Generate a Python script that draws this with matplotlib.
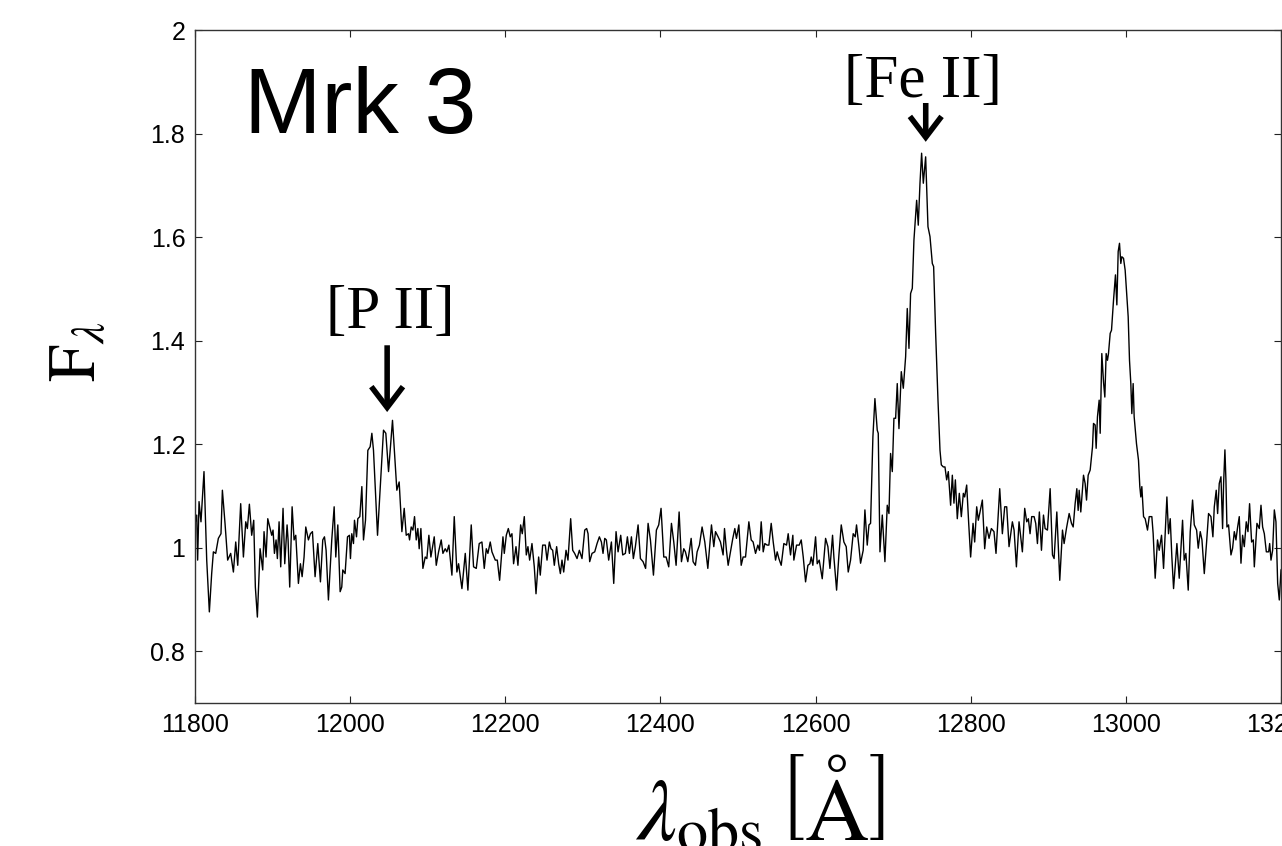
import matplotlib
matplotlib.use("Agg")
import matplotlib.pyplot as plt
from matplotlib.ticker import FormatStrFormatter

plt.rcParams['mathtext.fontset'] = 'stix'

# ---------------- data ----------------
wl_a = [11800.0, 11802.2, 11803.4, 11805.2, 11807.7, 11811.6, 11815.1, 11818.5, 11821.5, 11823.7,
        11826.7, 11830.1, 11833.5, 11835.3, 11838.7, 11842.1, 11846.0, 11849.5, 11852.5, 11855.1,
        11858.9, 11862.4, 11865.4, 11867.5, 11870.1, 11873.1, 11875.7, 11877.8, 11880.4, 11883.9,
        11887.3, 11889.0, 11891.6, 11893.8, 11896.8, 11898.9, 11900.6, 11902.4, 11904.5, 11906.2,
        11908.4, 11910.5, 11913.5, 11915.7, 11918.7, 11920.0, 11922.1, 11925.2, 11927.7, 11929.9,
        11933.3, 11935.9, 11938.1, 11940.6, 11942.8, 11946.2, 11948.8, 11951.4, 11954.8, 11958.3,
        11961.7, 11964.7, 11966.9, 11969.0, 11972.0, 11976.3, 11979.4, 11981.5, 11984.1, 11987.1,
        11989.2, 11990.5, 11993.5, 11996.6, 11999.1, 12000.4, 12002.1, 12004.3, 12005.6, 12008.2,
        12009.9, 12012.5, 12015.1, 12017.2, 12019.8, 12022.8, 12025.8, 12028.0]
fx_a = [1.047, 1.063, 0.976, 1.089, 1.050, 1.147, 0.976, 0.876, 0.950, 0.992,
        0.989, 1.018, 1.027, 1.111, 1.047, 0.976, 0.989, 0.953, 1.011, 0.966,
        1.085, 0.982, 1.050, 1.037, 1.084, 1.024, 1.053, 0.924, 0.866, 0.998,
        0.957, 1.031, 0.982, 1.056, 1.037, 1.024, 1.034, 0.989, 1.015, 0.979,
        1.050, 0.963, 1.076, 0.969, 1.044, 1.015, 0.924, 1.079, 1.015, 1.024,
        0.931, 0.969, 0.944, 0.982, 1.040, 1.015, 1.027, 1.031, 0.944, 1.008,
        0.934, 1.015, 1.021, 0.995, 0.899, 1.015, 1.079, 0.982, 1.044, 0.915,
        0.924, 0.957, 0.950, 1.021, 1.024, 0.979, 1.027, 1.008, 1.053, 1.021,
        1.056, 1.060, 1.118, 1.015, 1.053, 1.188, 1.195, 1.221]

wl_b = [12030.1, 12035.3, 12043.0, 12046.0, 12049.5, 12054.6, 12060.2, 12063.2, 12066.7, 12069.7,
        12072.3, 12075.3, 12076.6, 12078.7, 12080.9, 12083.0, 12085.2, 12087.3, 12089.0, 12091.2,
        12093.8, 12096.8, 12098.9, 12101.5, 12104.1, 12108.4, 12111.0, 12114.0, 12117.4, 12119.6,
        12122.6, 12124.7, 12127.3, 12131.2, 12134.2, 12137.6, 12139.8, 12144.1, 12148.4, 12151.8,
        12156.1, 12159.1, 12162.6, 12166.4, 12169.9, 12172.9, 12175.5, 12177.6, 12180.6, 12182.8,
        12187.1, 12189.7, 12192.7, 12197.0, 12198.7, 12201.3, 12203.9, 12206.4, 12208.6, 12210.7,
        12213.8, 12216.3, 12219.8, 12221.9, 12224.5, 12227.1, 12229.2, 12231.4, 12234.4, 12237.4,
        12239.6, 12243.0, 12245.1, 12248.2, 12251.6, 12253.8, 12256.8]
fx_b = [1.188, 1.024, 1.227, 1.221, 1.147, 1.246, 1.111, 1.127, 1.031, 1.076,
        1.024, 1.027, 1.015, 1.040, 1.034, 1.060, 1.015, 1.037, 0.998, 1.037,
        0.960, 0.982, 0.979, 1.024, 0.982, 1.021, 0.966, 0.992, 1.015, 0.989,
        0.998, 0.992, 1.005, 0.947, 1.060, 0.953, 0.969, 0.921, 0.989, 0.918,
        1.044, 0.963, 0.960, 1.008, 1.011, 0.960, 0.998, 0.989, 1.011, 0.992,
        0.976, 0.976, 0.937, 1.021, 0.989, 1.024, 1.037, 1.021, 1.027, 0.969,
        1.002, 0.966, 1.044, 1.027, 1.060, 0.986, 1.002, 0.976, 1.008, 0.963,
        0.911, 0.982, 0.947, 1.005, 1.005, 0.976, 1.011]

wl_c = [12258.9, 12261.1, 12263.2, 12266.2, 12268.8, 12271.0, 12273.1, 12275.3, 12278.3, 12280.8,
        12284.3, 12286.9, 12289.4, 12292.5, 12295.5, 12298.9, 12302.4, 12304.9, 12306.7, 12308.8,
        12311.8, 12315.3, 12318.3, 12321.3, 12323.9, 12326.0, 12328.2, 12330.3, 12333.3, 12336.8,
        12339.8, 12342.8, 12345.4, 12348.8, 12351.4, 12354.8, 12357.4, 12360.0, 12362.6, 12365.1,
        12367.7, 12371.2, 12374.2, 12377.6, 12380.9, 12384.1, 12387.1, 12391.0, 12394.8, 12397.8,
        12400.8, 12404.3, 12407.3, 12410.7, 12414.2, 12417.2, 12420.2, 12424.1, 12427.1, 12430.1,
        12432.2, 12435.3, 12439.6, 12442.1, 12445.1, 12447.3, 12450.3, 12453.7, 12457.2, 12461.1,
        12465.8, 12468.8, 12471.0, 12474.4]
fx_c = [0.998, 0.995, 0.966, 1.002, 0.969, 0.950, 0.976, 0.953, 0.995, 0.976,
        1.056, 0.995, 0.989, 0.979, 0.995, 0.979, 1.034, 1.037, 1.027, 0.973,
        0.989, 0.992, 1.008, 1.021, 1.011, 0.989, 1.018, 1.015, 0.976, 1.011,
        0.931, 1.031, 0.992, 1.024, 0.986, 0.989, 1.021, 0.989, 1.021, 0.979,
        1.002, 1.044, 0.979, 0.973, 0.960, 1.047, 1.015, 0.947, 1.034, 1.044,
        1.076, 0.982, 0.982, 0.963, 1.047, 1.011, 0.966, 1.069, 0.973, 0.998,
        0.992, 0.973, 1.018, 0.973, 0.966, 0.992, 1.005, 1.040, 1.011, 0.960,
        1.044, 1.002, 1.031, 1.021]

wl_d = [12477.4, 12480.8, 12482.6, 12485.1, 12487.3, 12490.3, 12493.3, 12495.9, 12498.0, 12501.1,
        12504.1, 12506.6, 12509.7, 12514.0, 12517.0, 12519.5, 12522.6, 12525.6, 12527.7, 12529.9,
        12532.5, 12534.6, 12537.6, 12539.8, 12542.8, 12545.4, 12548.4, 12550.5, 12552.7, 12555.7,
        12559.1, 12562.6, 12564.7, 12567.7, 12570.7, 12572.0, 12575.5, 12578.9, 12581.5, 12584.1,
        12587.1, 12590.1, 12592.7, 12594.4, 12596.5, 12600.0, 12602.1, 12604.7, 12608.6, 12612.9,
        12615.9, 12618.5, 12621.9, 12623.6, 12627.1, 12630.1, 12633.1]
fx_d = [1.011, 0.986, 1.037, 0.995, 0.966, 0.992, 1.018, 1.037, 1.018, 1.044,
        0.966, 0.982, 0.982, 1.050, 1.015, 1.011, 0.989, 1.005, 0.995, 1.050,
        0.992, 1.008, 1.005, 1.005, 1.047, 1.011, 0.976, 0.992, 0.979, 0.966,
        1.008, 1.005, 1.027, 0.986, 1.024, 0.976, 1.005, 1.005, 1.015, 0.982,
        0.934, 0.966, 0.969, 0.982, 0.966, 1.021, 0.969, 0.976, 0.940, 1.018,
        1.002, 0.960, 1.024, 0.982, 0.918, 0.986, 1.044]

wl_e = [12636.5, 12639.5, 12642.1, 12645.1, 12648.5, 12651.1, 12652.8, 12655.9, 12658.0, 12661.4,
        12663.6, 12666.6, 12668.8, 12670.9, 12673.9, 12676.5, 12679.5, 12680.8, 12683.0, 12686.0,
        12689.4, 12692.4, 12694.6, 12696.7, 12698.9, 12701.0, 12703.2, 12705.3, 12707.5, 12710.5,
        12713.1, 12716.1, 12718.2, 12720.4, 12722.5, 12724.7, 12726.8, 12730.3, 12732.4, 12734.6,
        12736.7, 12738.9, 12741.9, 12744.9, 12747.5, 12750.5, 12752.2, 12754.8, 12757.8, 12760.4,
        12762.1, 12764.7, 12766.8, 12769.0, 12771.1, 12774.1, 12776.3, 12778.4, 12780.2, 12782.7,
        12785.3, 12787.9, 12790.5, 12792.2, 12794.8, 12797.4, 12799.9, 12803.0, 12805.1, 12807.7,
        12809.8, 12812.0, 12815.0, 12818.0, 12820.6, 12823.6, 12826.6, 12830.0, 12832.6, 12837.4,
        12840.8, 12843.8, 12846.4, 12849.4, 12853.7, 12855.9, 12858.9, 12862.3, 12866.6, 12869.6,
        12872.2, 12874.3, 12876.5, 12878.6, 12881.7, 12883.8, 12886.0, 12888.5]
fx_e = [1.011, 1.002, 0.953, 0.976, 1.027, 1.021, 1.044, 1.002, 0.970, 0.995,
        1.073, 1.005, 1.044, 1.047, 1.214, 1.288, 1.227, 1.221, 0.992, 1.063,
        0.973, 1.082, 1.066, 1.182, 1.147, 1.250, 1.250, 1.317, 1.230, 1.340,
        1.308, 1.369, 1.462, 1.385, 1.491, 1.501, 1.594, 1.671, 1.623, 1.704,
        1.762, 1.704, 1.755, 1.620, 1.601, 1.549, 1.543, 1.414, 1.285, 1.188,
        1.160, 1.156, 1.156, 1.131, 1.147, 1.082, 1.140, 1.086, 1.131, 1.056,
        1.105, 1.060, 1.105, 1.098, 1.121, 1.047, 0.982, 1.047, 1.011, 1.079,
        1.053, 1.069, 1.092, 0.998, 1.040, 1.018, 1.037, 1.031, 0.989, 1.114,
        1.027, 1.079, 1.079, 1.002, 1.050, 1.034, 0.963, 1.050, 0.992, 1.076,
        1.050, 1.056, 1.027, 1.060, 1.060, 1.047, 1.008, 1.069]

wl_f = [12891.2, 12893.8, 12895.9, 12898.9, 12902.4, 12905.4, 12907.5, 12911.0, 12914.8, 12918.3,
        12920.4, 12923.4, 12926.9, 12929.9, 12932.1, 12934.6, 12936.8, 12938.5, 12939.8, 12941.9,
        12945.4, 12947.5, 12949.3, 12951.4, 12954.0, 12957.0]
fx_f = [0.995, 1.063, 1.037, 1.034, 1.114, 0.986, 0.979, 1.069, 0.937, 1.034,
        1.008, 1.037, 1.066, 1.047, 1.040, 1.085, 1.114, 1.072, 1.111, 1.069,
        1.140, 1.124, 1.092, 1.140, 1.150, 1.195]

wl_g = [12958.3, 12960.4, 12961.7, 12963.4, 12965.6, 12966.9, 12969.0, 12971.2, 12972.9, 12974.6,
        12976.3, 12977.6, 12979.8, 12981.5, 12984.1, 12986.6, 12988.4, 12990.1, 12991.8, 12993.5,
        12994.8, 12997.0, 12999.1, 13001.3, 13003.0, 13004.7, 13006.4, 13007.7, 13009.4, 13010.7,
        13013.7, 13016.3, 13018.0, 13019.3, 13020.6, 13022.8, 13024.9, 13027.9, 13030.1, 13033.5,
        13035.2, 13037.8, 13040.8, 13043.0, 13046.0, 13048.6, 13052.9, 13055.0, 13057.2, 13059.3,
        13061.5, 13065.8, 13068.8, 13073.1, 13075.2, 13077.4, 13080.4, 13083.0, 13086.0, 13088.2,
        13091.2, 13093.3, 13095.9, 13098.1, 13101.1, 13104.1, 13106.6, 13109.7, 13112.2, 13114.0,
        13116.5, 13118.3, 13120.4, 13122.6, 13124.7, 13126.0, 13127.7, 13129.0, 13130.3, 13132.4,
        13135.5, 13137.6, 13139.8, 13141.9, 13144.1, 13146.2, 13148.4, 13150.5, 13152.7, 13155.2,
        13157.4, 13159.5, 13162.1, 13164.3, 13165.6, 13169.0, 13172.0, 13174.2, 13176.3, 13178.5,
        13181.1, 13184.1, 13185.4, 13187.1, 13189.2, 13191.4, 13193.5, 13195.7, 13197.8, 13200.0,
        13202.6]
fx_g = [1.240, 1.237, 1.192, 1.253, 1.285, 1.221, 1.375, 1.320, 1.291, 1.375,
        1.362, 1.375, 1.414, 1.420, 1.478, 1.527, 1.469, 1.572, 1.588, 1.549,
        1.562, 1.559, 1.536, 1.485, 1.446, 1.362, 1.317, 1.259, 1.317, 1.253,
        1.201, 1.169, 1.118, 1.098, 1.118, 1.060, 1.056, 1.034, 1.060, 1.060,
        1.027, 0.941, 1.015, 0.995, 1.024, 0.960, 1.098, 1.027, 1.056, 0.982,
        0.921, 1.008, 0.941, 1.053, 0.976, 0.989, 0.918, 1.031, 1.092, 1.044,
        1.034, 0.999, 1.031, 1.015, 0.950, 1.011, 1.066, 1.060, 1.021, 1.079,
        1.111, 1.066, 1.124, 1.137, 1.037, 1.124, 1.189, 1.131, 1.040, 1.044,
        0.986, 0.999, 1.031, 1.015, 1.040, 1.060, 0.970, 1.024, 1.002, 1.050,
        1.031, 1.085, 1.011, 1.015, 0.963, 1.047, 1.037, 1.082, 1.040, 1.027,
        0.992, 0.992, 1.008, 0.976, 0.995, 1.073, 1.050, 0.931, 0.899, 0.957,
        0.963]

wavelength = wl_a + wl_b + wl_c + wl_d + wl_e + wl_f + wl_g
flux = fx_a + fx_b + fx_c + fx_d + fx_e + fx_f + fx_g
assert len(wavelength) == len(flux)

x_ticks = [11800, 12000, 12200, 12400, 12600, 12800, 13000, 13200]
y_ticks = [0.8, 1.0, 1.2, 1.4, 1.6, 1.8, 2.0]

lines = [("[P II]", 12047.7, 1.262, 1.391, 12051.6, 1.424),
         ("[Fe II]", 12742.0, 1.784, 1.859, 12738.0, 1.871)]

# ---------------- figure ----------------
W, H = 1282, 846
fig = plt.figure(figsize=(W / 100, H / 100), dpi=100)
ax = fig.add_axes([195 / W, 1 - 703 / H, (1281 - 195) / W, (703 - 30) / H])

ax.plot(wavelength, flux, color='black', lw=1.0)
ax.set_xlim(11800, 13200)
ax.set_ylim(0.7, 2.0)
ax.set_xticks(x_ticks)
ax.set_yticks(y_ticks)
ax.yaxis.set_major_formatter(FormatStrFormatter('%g'))
ax.tick_params(direction='in', top=True, right=True, length=5, width=0.8,
               labelsize=18, pad=7, colors='#222222', labelcolor='black')
for lab in ax.get_xticklabels() + ax.get_yticklabels():
    lab.set_family('Liberation Sans')
for s in ax.spines.values():
    s.set_linewidth(1.0)
    s.set_color('#333333')

# object name
ax.text(11863, 1.801, "Mrk 3", family='Liberation Sans', fontsize=67,
        ha='left', va='baseline')

# line identifications with arrows
for name, xa, ytip, ytail, xt, yt in lines:
    ax.annotate('', xy=(xa, ytip), xytext=(xa, ytail),
                arrowprops=dict(arrowstyle='->,head_length=0.5,head_width=0.38',
                                lw=4.0, color='black', shrinkA=0, shrinkB=0,
                                mutation_scale=30, joinstyle='miter',
                                capstyle='butt'))
    ax.text(xt, yt, name, family='Liberation Serif', fontsize=44,
            ha='center', va='baseline')

# axis labels
fig.text(77 / W, 1 - 352 / H, r'$\mathrm{F}_{\lambda}$', fontsize=48,
         rotation=90, ha='center', va='center')
fig.text(760 / W, 1 - 758 / H, r'$\lambda_{\mathrm{obs}}\,\left[\mathrm{\AA}\right]$',
         fontsize=64, ha='center', va='top')

fig.savefig('out.png', dpi=100)
